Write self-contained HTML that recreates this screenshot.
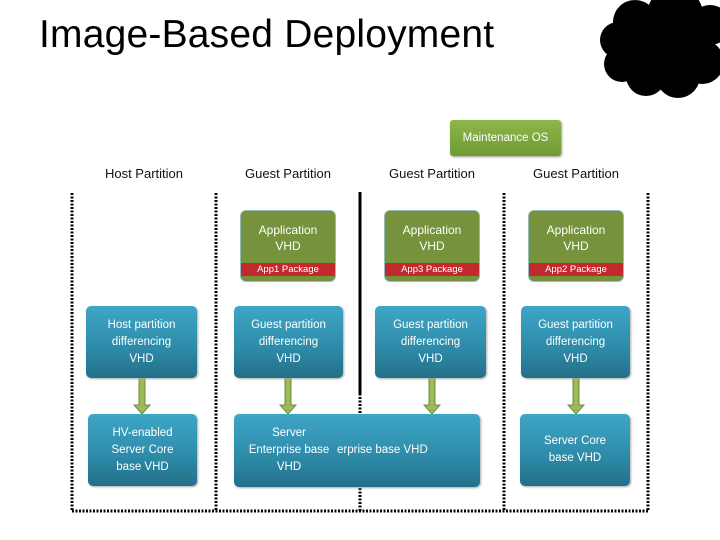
<!DOCTYPE html>
<html><head><meta charset="utf-8"><style>
body{margin:0;width:720px;height:540px;background:#fff;position:relative;overflow:hidden;font-family:"Liberation Sans",sans-serif}
div{position:absolute;box-sizing:border-box}
.t{font-size:39px;left:39px;top:13px;color:#000;white-space:nowrap;letter-spacing:0.2px}
.h{font-size:13px;color:#111;width:144px;text-align:center;top:166px}
.b{border-radius:5px;background:linear-gradient(#3fa6c6,#2d8aa8 60%,#246f88);color:#fff;font-size:11.5px;text-align:center;line-height:17px;box-shadow:1px 1px 2px #aaa;display:flex;align-items:center;justify-content:center}
.g{border-radius:6px;background:#76923c;color:#fff;font-size:12px;text-align:center;line-height:16px;overflow:hidden;border:1px solid #9bb;}
.g .r{left:0;right:0;bottom:5px;height:13px;background:#c0292d;font-size:9.5px;line-height:13px}
</style></head><body>
<div class="t">Image-Based Deployment</div>
<svg style="position:absolute;left:0;top:0" width="720" height="540">
<g fill="#000">
<rect x="620" y="15" width="95" height="65"/>
<circle cx="635" cy="22" r="22"/><circle cx="675" cy="15" r="28"/><circle cx="618" cy="40" r="18"/>
<circle cx="622" cy="64" r="18"/><circle cx="646" cy="76" r="20"/><circle cx="678" cy="76" r="22"/>
<circle cx="702" cy="62" r="22"/><circle cx="665" cy="45" r="30"/><circle cx="710" cy="25" r="20"/>
</g>
<g stroke="#000" stroke-width="3" stroke-dasharray="2 1.5" fill="none">
<line x1="72" y1="193" x2="72" y2="511"/>
<line x1="216" y1="193" x2="216" y2="511"/>
<line x1="360" y1="390" x2="360" y2="511"/>
<line x1="504" y1="193" x2="504" y2="511"/>
<line x1="648" y1="193" x2="648" y2="511"/>
<line x1="72" y1="511" x2="649" y2="511"/>
</g>
<line x1="360" y1="192" x2="360" y2="395" stroke="#000" stroke-width="3"/>
<g fill="#9bbb59" stroke="#6f8a3a" stroke-width="1">
<path d="M139 378h6v27h5l-8 9-8-9h5z"/>
<path d="M285 378h6v27h5l-8 9-8-9h5z"/>
<path d="M429 378h6v27h5l-8 9-8-9h5z"/>
<path d="M573 378h6v27h5l-8 9-8-9h5z"/>
</g>
</svg>
<div style="left:450px;top:120px;width:111px;height:36px;border-radius:3px;background:linear-gradient(#8db74a,#6f9a35);color:#fff;font-size:11.5px;text-align:center;line-height:36px;box-shadow:1px 1px 2px #999">Maintenance OS</div>
<div class="h" style="left:72px">Host Partition</div>
<div class="h" style="left:216px">Guest Partition</div>
<div class="h" style="left:360px">Guest Partition</div>
<div class="h" style="left:504px">Guest Partition</div>
<div class="g" style="left:240px;top:210px;width:96px;height:72px;padding-top:11px">Application<br>VHD<div class="r">App1 Package</div></div>
<div class="g" style="left:384px;top:210px;width:96px;height:72px;padding-top:11px">Application<br>VHD<div class="r">App3 Package</div></div>
<div class="g" style="left:528px;top:210px;width:96px;height:72px;padding-top:11px">Application<br>VHD<div class="r">App2 Package</div></div>
<div class="b" style="left:86px;top:306px;width:111px;height:72px">Host partition<br>differencing<br>VHD</div>
<div class="b" style="left:234px;top:306px;width:109px;height:72px">Guest partition<br>differencing<br>VHD</div>
<div class="b" style="left:375px;top:306px;width:111px;height:72px">Guest partition<br>differencing<br>VHD</div>
<div class="b" style="left:521px;top:306px;width:109px;height:72px">Guest partition<br>differencing<br>VHD</div>
<div class="b" style="left:88px;top:414px;width:109px;height:72px">HV-enabled<br>Server Core<br>base VHD</div>
<div class="b" style="left:234px;top:414px;width:246px;height:73px"></div>
<div style="left:238px;top:425px;width:102px;color:#fff;font-size:11.5px;line-height:17px;text-align:center">Server<br>Enterprise base<br>VHD</div>
<div style="left:337px;top:442px;color:#fff;font-size:11.5px;line-height:17px;white-space:nowrap">erprise base VHD</div>
<div class="b" style="left:520px;top:414px;width:110px;height:72px">Server Core<br>base VHD</div>
</body></html>
